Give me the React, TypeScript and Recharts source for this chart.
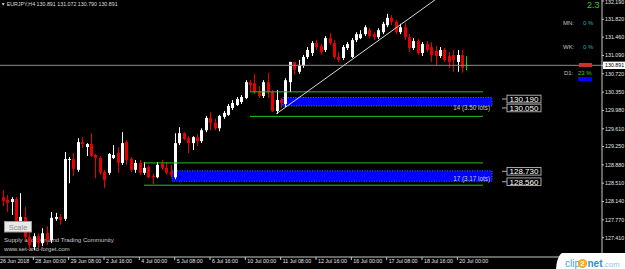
import React from 'react';
import { ComposedChart, Bar, XAxis, YAxis, ReferenceLine, ReferenceArea, ReferenceDot } from 'recharts';

const FONT = '"Liberation Sans", Arial, sans-serif';

// EURJPY H4 candles, bar 0 = 26 Jun 2018 16:00
const openPrices = [
  128.03, 128.23, 128.17, 128.13, 128.19, 127.60, 127.83, 127.42, 127.22, 127.44,
  127.30, 127.50, 127.36, 127.79, 127.83, 127.79, 128.98, 129.00, 128.78, 129.34,
  129.24, 129.30, 129.08, 129.02, 128.74, 128.72, 129.02, 129.12, 128.92, 129.34,
  129.00, 128.78, 128.92, 128.72, 128.84, 128.66, 128.63, 128.90, 128.82, 128.74,
  128.63, 129.32, 129.52, 129.42, 129.32, 129.44, 129.36, 129.58, 129.83, 129.73,
  129.62, 129.85, 129.89, 130.03, 130.09, 130.15, 130.23, 130.55, 130.53, 130.35,
  130.27, 130.55, 130.35, 129.97, 130.19, 130.11, 130.55, 130.96, 130.76, 130.88,
  131.06, 131.14, 131.34, 131.28, 131.20, 131.44, 131.34, 131.06, 131.04, 131.24,
  131.06, 131.40, 131.44, 131.52, 131.60, 131.52, 131.46, 131.56, 131.70, 131.85,
  131.77, 131.56, 131.66, 131.46, 131.24, 131.38, 131.14, 131.32, 131.26, 131.18,
  131.08, 131.20, 131.08, 131.10, 130.96, 131.10, 130.891,
];
const highPrices = [
  128.27, 128.37, 128.27, 128.23, 128.23, 128.31, 128.03, 127.60, 127.50, 127.50,
  127.60, 127.64, 127.93, 127.91, 127.89, 129.14, 129.04, 129.12, 129.42, 129.44,
  129.32, 129.52, 129.10, 129.06, 128.78, 129.12, 129.28, 129.24, 129.54, 129.38,
  129.04, 128.98, 128.98, 128.94, 128.88, 128.70, 128.94, 128.98, 128.94, 128.88,
  129.52, 129.64, 129.54, 129.46, 129.46, 129.50, 129.62, 129.87, 129.95, 129.81,
  129.89, 129.97, 130.11, 130.19, 130.25, 130.29, 130.59, 130.59, 130.72, 130.47,
  130.59, 130.74, 130.39, 130.39, 130.23, 130.63, 130.96, 130.96, 131.00, 131.10,
  131.26, 131.38, 131.40, 131.32, 131.48, 131.54, 131.40, 131.16, 131.30, 131.36,
  131.44, 131.56, 131.60, 131.70, 131.64, 131.56, 131.64, 131.77, 131.93, 131.91,
  131.81, 131.73, 131.75, 131.52, 131.44, 131.42, 131.36, 131.38, 131.36, 131.28,
  131.26, 131.24, 131.16, 131.20, 131.20, 131.20, 131.072,
];
const lowPrices = [
  127.97, 128.05, 127.93, 127.87, 127.52, 127.56, 127.36, 127.16, 127.16, 127.20,
  127.24, 127.26, 127.30, 127.75, 127.67, 127.75, 128.51, 128.66, 128.74, 129.22,
  129.06, 129.04, 128.61, 128.68, 128.41, 128.68, 129.00, 128.72, 128.88, 128.88,
  128.74, 128.72, 128.68, 128.68, 128.61, 128.49, 128.61, 128.78, 128.68, 128.63,
  128.59, 129.28, 129.38, 129.12, 129.18, 129.26, 129.32, 129.54, 129.58, 129.58,
  129.56, 129.81, 129.87, 129.99, 130.07, 130.11, 130.21, 130.35, 130.31, 130.23,
  130.23, 130.23, 129.95, 129.91, 130.03, 130.05, 130.35, 130.70, 130.72, 130.84,
  131.02, 131.08, 131.20, 131.10, 131.16, 131.30, 131.02, 130.96, 131.00, 131.20,
  131.04, 131.36, 131.42, 131.48, 131.44, 131.40, 131.42, 131.52, 131.66, 131.70,
  131.52, 131.52, 131.40, 131.16, 131.20, 131.10, 131.08, 131.16, 130.96, 130.88,
  131.04, 130.96, 130.84, 130.76, 130.76, 130.74, 130.79,
];
const closePrices = [
  128.21, 128.15, 128.11, 128.19, 127.60, 127.83, 127.42, 127.26, 127.44, 127.30,
  127.50, 127.36, 127.81, 127.83, 127.77, 129.00, 129.00, 128.80, 129.34, 129.30,
  129.30, 129.06, 129.02, 128.72, 128.57, 129.10, 129.08, 128.92, 129.32, 128.98,
  128.78, 128.92, 128.72, 128.82, 128.63, 128.63, 128.88, 128.82, 128.72, 128.68,
  129.32, 129.52, 129.40, 129.32, 129.44, 129.36, 129.58, 129.83, 129.73, 129.62,
  129.87, 129.93, 130.07, 130.13, 130.21, 130.25, 130.55, 130.49, 130.35, 130.27,
  130.55, 130.35, 129.97, 130.19, 130.13, 130.59, 130.96, 130.80, 130.90, 131.06,
  131.20, 131.34, 131.26, 131.16, 131.44, 131.34, 131.06, 131.00, 131.26, 131.32,
  131.40, 131.52, 131.52, 131.66, 131.48, 131.46, 131.60, 131.73, 131.85, 131.77,
  131.56, 131.66, 131.46, 131.24, 131.38, 131.14, 131.32, 131.20, 131.10, 131.08,
  131.20, 131.00, 130.96, 131.00, 131.10, 130.84, 130.891,
];

const timeTickBars = [0, 8, 16, 24, 32, 40, 48, 56, 64, 72, 80, 88, 96, 104];
const timeTickLabels = [
  '26 Jun 2018', '28 Jun 00:00', '29 Jun 08:00', '2 Jul 16:00', '4 Jul 00:00', '5 Jul 08:00',
  '6 Jul 16:00', '10 Jul 00:00', '11 Jul 08:00', '12 Jul 16:00', '16 Jul 00:00', '17 Jul 08:00',
  '18 Jul 16:00', '20 Jul 00:00',
];
const priceTicks = [132.19, 131.82, 131.46, 131.09, 130.72, 130.35, 129.98, 129.61, 129.25, 128.88, 128.51, 128.14, 127.77, 127.41, 127.04];
const currentPrice = 130.891;
const titleQuote = ['130.891', '131.072', '130.790', '130.891'];

// supply/demand zones (upper, lower)
const zoneTop = [130.24, 128.76];
const zoneBottom = [130.07, 128.55];
const zoneLeft = [64.5, 39.4];
const zoneRight = [111.84, 111.84];
const zoneLevelHi = [130.19, 128.73];
const zoneLevelLo = [130.05, 128.56];
const zoneLots = ['14 (3.50 lots)', '17 (3.17 lots)'];
const zoneLotsPrice = [129.99, 128.55];
const greenLineTop = [130.355, 128.92];
const greenLineBottom = [129.86, 128.47];
const greenLineLeft = [57.05, 33.05];
const greenLineRight = 109.8;
const tagBar = 115.24;
const lotsBar = 111.4;
const trendStart = { x: 63, y: 129.91 };
const trendEnd = { x: 100, y: 132.28 };

const X_DOMAIN: [number, number] = [0.453, 136.75];
const Y_DOMAIN: [number, number] = [127.02, 132.21];

const BULL = '#ffffff';
const BEAR = '#e60000';
const DOJI = '#00e000';

const rows = openPrices.map((o, i) => ({
  i,
  o,
  h: highPrices[i],
  l: lowPrices[i],
  c: closePrices[i],
  range: [lowPrices[i], highPrices[i]],
}));

function Candle(props: any) {
  const { x, y, width, height, payload } = props;
  if (!payload || x == null) return null;
  const { o, h, l, c } = payload;
  const cx = Math.round(x + width / 2) + 0.5;
  const span = h - l;
  const k = span > 0 ? height / span : 0;
  const yO = y + (h - o) * k;
  const yC = y + (h - c) * k;
  const color = c > o ? BULL : c < o ? BEAR : DOJI;
  const top = Math.min(yO, yC);
  const bh = Math.max(Math.abs(yC - yO), 1);
  return (
    <g>
      <line x1={cx} x2={cx} y1={y} y2={y + height} stroke={color} strokeWidth={1} />
      {c === o ? (
        <line x1={cx - 1.5} x2={cx + 1.5} y1={yO} y2={yO} stroke={color} strokeWidth={1} />
      ) : (
        <rect x={cx - 1.5} y={top} width={3} height={bh} fill={color} />
      )}
    </g>
  );
}

function XTick(props: any) {
  const { x, y, payload } = props;
  const idx = timeTickBars.indexOf(payload.value);
  return (
    <text x={x + 2} y={y + 2.3} fontSize={5.3} fill="#e6e6e6" fontFamily={FONT}>
      {timeTickLabels[idx]}
    </text>
  );
}

function YTick(props: any) {
  const { x, y, payload } = props;
  const v = payload.value;
  if (v === currentPrice) {
    return (
      <g>
        <rect x={x - 2} y={y - 3.7} width={24} height={7.4} fill="#ffffff" />
        <text x={x} y={y + 1.9} fontSize={5.3} fill="#000000" fontFamily={FONT}>
          {v.toFixed(3)}
        </text>
      </g>
    );
  }
  return (
    <text x={x} y={Math.max(y + 1.9, 4.2)} fontSize={5.3} fill="#e6e6e6" fontFamily={FONT}>
      {v.toFixed(3)}
    </text>
  );
}

const makeTag = (text: string, shift: number) => (p: any) => {
  const { cx } = p;
  const cy = p.cy + shift;
  return (
    <g>
      <line x1={cx - 5} y1={cy} x2={cx} y2={cy} stroke="#b0b0b0" strokeWidth={1} />
      <rect x={cx} y={cy - 3.8} width={34} height={7.6} fill="#000000" stroke="#a8a8a8" strokeWidth={1} />
      <text x={cx + 17} y={cy + 3} textAnchor="middle" fontSize={8} fill="#ffffff" fontFamily={FONT}>
        {text}
      </text>
    </g>
  );
};

const makeLots = (text: string) => (p: any) => {
  const { cx, cy } = p;
  return (
    <text x={cx} y={cy} textAnchor="end" fontSize={6.3} fill="#c8c8c8" fontFamily={FONT}>
      {text}
    </text>
  );
};

export default function App() {
  return (
    <div style={{ position: 'absolute', left: 0, top: 0, width: 625, height: 269, background: '#000', overflow: 'hidden' }}>
      <svg width={625} height={269} style={{ position: 'absolute', left: 0, top: 0 }}>
        <text x={4} y={242.3} fontSize={6.1} fill="#c8c8c8" fontFamily={FONT}>Supply and Demand Trading Community</text>
        <text x={4} y={250.5} fontSize={6.1} fill="#c8c8c8" fontFamily={FONT}>www.set-and-forget.com</text>
      </svg>
      <div style={{ position: 'absolute', left: 0, top: 0 }}>
        <ComposedChart width={625} height={269} data={rows} margin={{ top: 0, right: 0, bottom: 0, left: 0 }}>
          <XAxis
            dataKey="i"
            type="number"
            domain={X_DOMAIN}
            allowDataOverflow
            ticks={timeTickBars}
            interval={0}
            tick={<XTick />}
            tickSize={3}
            tickMargin={1}
            height={12}
            axisLine={{ stroke: '#c8c8c8' }}
            tickLine={{ stroke: '#c8c8c8' }}
          />
          <YAxis
            orientation="right"
            type="number"
            domain={Y_DOMAIN}
            allowDataOverflow
            ticks={[...priceTicks, currentPrice]}
            interval={0}
            width={23}
            tickSize={2}
            tickMargin={1}
            tick={<YTick />}
            axisLine={{ stroke: '#c8c8c8' }}
            tickLine={{ stroke: '#c8c8c8' }}
          />
          {zoneTop.map((t, z) => (
            <ReferenceArea
              key={'za' + z}
              x1={zoneLeft[z]}
              x2={zoneRight[z]}
              y1={zoneBottom[z]}
              y2={t}
              fill="#0000ff"
              fillOpacity={1}
              stroke="#3a78ff"
              strokeDasharray="1 1.5"
              ifOverflow="visible"
            />
          ))}
          {greenLineTop.map((g, z) => (
            <ReferenceLine
              key={'gt' + z}
              segment={[{ x: greenLineLeft[z], y: g }, { x: greenLineRight, y: g }]}
              stroke="#1ec81e"
              strokeWidth={1}
              ifOverflow="visible"
            />
          ))}
          {greenLineBottom.map((g, z) => (
            <ReferenceLine
              key={'gb' + z}
              segment={[{ x: greenLineLeft[z], y: g }, { x: greenLineRight, y: g }]}
              stroke="#1ec81e"
              strokeWidth={1}
              ifOverflow="visible"
            />
          ))}
          <ReferenceLine y={currentPrice} stroke="#8c8c8c" strokeWidth={1} ifOverflow="visible" />
          <ReferenceLine segment={[trendStart, trendEnd]} stroke="#d8d8d8" strokeWidth={1} ifOverflow="visible" />
          <Bar dataKey="range" barSize={3} shape={<Candle />} isAnimationActive={false} />
          {zoneLots.map((t, z) => (
            <ReferenceDot key={'lt' + z} x={lotsBar} y={zoneLotsPrice[z]} shape={makeLots(t)} ifOverflow="visible" />
          ))}
          {zoneLevelHi.map((v, z) => (
            <ReferenceDot key={'th' + z} x={tagBar} y={v} shape={makeTag(v.toFixed(3), -1)} ifOverflow="visible" />
          ))}
          {zoneLevelLo.map((v, z) => (
            <ReferenceDot key={'tl' + z} x={tagBar} y={v} shape={makeTag(v.toFixed(3), 1)} ifOverflow="visible" />
          ))}
        </ComposedChart>
      </div>
      <svg width={625} height={269} style={{ position: 'absolute', left: 0, top: 0, pointerEvents: 'none' }}>
        <polygon points="1.6,3.2 4.8,3.2 3.2,5.6" fill="#dddddd" />
        <text x={6.7} y={6.3} fontSize={5.3} fill="#dddddd" fontFamily={FONT}>
          {'EURJPY,H4 ' + titleQuote.join(' ')}
        </text>
        <text x={587} y={8.3} fontSize={9} fill="#2ecc2e" fontFamily={FONT}>2.3</text>
        <text x={563} y={25} fontSize={6} fill="#c0c0c0" fontFamily={FONT}>MN:</text>
        <text x={583} y={25} fontSize={6} fill="#20b2aa" fontFamily={FONT}>0 %</text>
        <text x={563} y={49} fontSize={6} fill="#c0c0c0" fontFamily={FONT}>WK:</text>
        <text x={583} y={49} fontSize={6} fill="#20b2aa" fontFamily={FONT}>0 %</text>
        <rect x={579} y={63} width={13} height={4} fill="#c83232" />
        <text x={564} y={74.5} fontSize={6} fill="#c0c0c0" fontFamily={FONT}>D1:</text>
        <text x={578} y={74.5} fontSize={6} fill="#33cc33" fontFamily={FONT}>23 %</text>
        <rect x={578} y={77} width={14} height={4} fill="#0000ff" />
        <rect x={4.5} y={221.5} width={27} height={10.5} fill="#e8e8e8" stroke="#9a9a9a" strokeWidth={1} />
        <text x={18} y={229.8} textAnchor="middle" fontSize={7.4} fill="#8a8a8a" fontFamily={FONT}>Scale</text>
        <path d="M 562 253 H 625 V 269 H 556 Q 557 256 562 253 Z" fill="#ffffff" />
        <text x={565} y={267} fontSize={10} fill="#4aa3e0" fontFamily={FONT}>clip</text>
        <circle cx={582.5} cy={263.5} r={4.6} fill="#f6a821" />
        <text x={582.5} y={266.4} textAnchor="middle" fontSize={8} fontWeight="bold" fill="#ffffff" fontFamily={FONT}>2</text>
        <text x={587.5} y={267} fontSize={10} fontWeight="bold" fill="#2f8fd8" fontFamily={FONT}>net</text>
        <text x={603} y={267} fontSize={7.6} fill="#8fc3ea" fontFamily={FONT}>.com</text>
      </svg>
    </div>
  );
}
